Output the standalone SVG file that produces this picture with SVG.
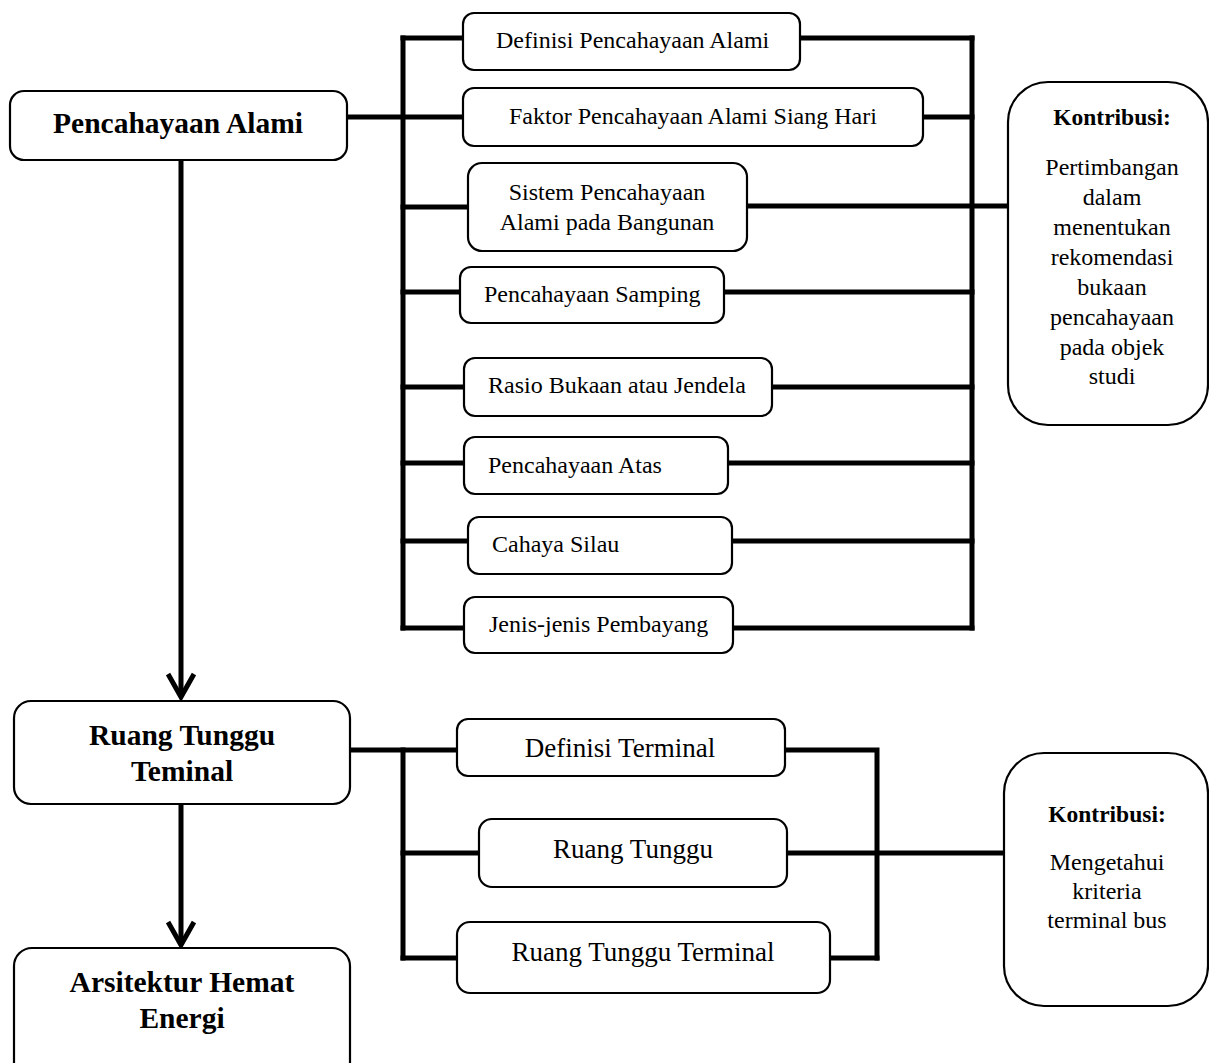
<svg xmlns="http://www.w3.org/2000/svg" width="1209" height="1064" viewBox="0 0 1209 1064">
<style>
.box{fill:#fff;stroke:#000;stroke-width:2.2}
.ln{fill:none;stroke:#000;stroke-width:5;stroke-linecap:square}
text{font-family:"Liberation Serif",Tinos,"Times New Roman",Times,"DejaVu Serif",serif;fill:#000}
.t{font-size:24px}
.tl{font-size:27px;text-anchor:middle}
.tb{font-size:29.5px;font-weight:bold;text-anchor:middle}
.kb{font-size:23.5px;font-weight:bold;text-anchor:middle}
.c{text-anchor:middle}
</style>
<defs>
<marker id="chev" viewBox="0 0 30 30" refX="26" refY="15" markerWidth="30" markerHeight="30" markerUnits="userSpaceOnUse" orient="auto">
<path d="M3,2 L26,15 L3,28" fill="none" stroke="#000" stroke-width="5"/>
</marker>
</defs>
<g id="connectors">
<path class="ln" d="M403,38 V628"/>
<path class="ln" d="M972,38 V628"/>
<path class="ln" d="M403,38 H463"/>
<path class="ln" d="M800,38 H972"/>
<path class="ln" d="M347,117 H463"/>
<path class="ln" d="M923,117 H972"/>
<path class="ln" d="M403,207 H468"/>
<path class="ln" d="M747,206 H1008"/>
<path class="ln" d="M403,292 H460"/>
<path class="ln" d="M724,292 H972"/>
<path class="ln" d="M403,387 H464"/>
<path class="ln" d="M772,387 H972"/>
<path class="ln" d="M403,463 H464"/>
<path class="ln" d="M728,463 H972"/>
<path class="ln" d="M403,541 H468"/>
<path class="ln" d="M732,541 H972"/>
<path class="ln" d="M403,628 H464"/>
<path class="ln" d="M733,628 H972"/>
<path class="ln" d="M350,750 H457"/>
<path class="ln" d="M403,750 V958"/>
<path class="ln" d="M785,750 H877 V958"/>
<path class="ln" d="M403,853 H479"/>
<path class="ln" d="M787,853 H1004"/>
<path class="ln" d="M403,958 H457"/>
<path class="ln" d="M830,958 H877"/>
<line x1="181" y1="161" x2="181" y2="697" stroke="#000" stroke-width="5" marker-end="url(#chev)"/>
<line x1="181" y1="805" x2="181" y2="945" stroke="#000" stroke-width="5" marker-end="url(#chev)"/>
</g>
<g id="n-pencahayaan-alami">
<rect class="box" x="10" y="91" width="337" height="69" rx="14"/>
<text class="tb" x="178" y="133">Pencahayaan Alami</text>
</g>
<g id="n-definisi">
<rect class="box" x="463" y="13" width="337" height="57" rx="11"/>
<text class="t" x="496" y="48">Definisi Pencahayaan Alami</text>
</g>
<g id="n-faktor">
<rect class="box" x="463" y="88" width="460" height="58" rx="11"/>
<text class="t" x="509" y="124">Faktor Pencahayaan Alami Siang Hari</text>
</g>
<g id="n-sistem">
<rect class="box" x="468" y="163" width="279" height="88" rx="14"/>
<text class="t c" x="607" y="200">Sistem Pencahayaan</text>
<text class="t c" x="607" y="230">Alami pada Bangunan</text>
</g>
<g id="n-samping">
<rect class="box" x="460" y="267" width="264" height="56" rx="11"/>
<text class="t" x="484" y="302">Pencahayaan Samping</text>
</g>
<g id="n-rasio">
<rect class="box" x="464" y="358" width="308" height="58" rx="11"/>
<text class="t" x="488" y="393">Rasio Bukaan atau Jendela</text>
</g>
<g id="n-atas">
<rect class="box" x="464" y="437" width="264" height="57" rx="11"/>
<text class="t" x="488" y="473">Pencahayaan Atas</text>
</g>
<g id="n-silau">
<rect class="box" x="468" y="517" width="264" height="57" rx="11"/>
<text class="t" x="492" y="552">Cahaya Silau</text>
</g>
<g id="n-pembayang">
<rect class="box" x="464" y="597" width="269" height="56" rx="11"/>
<text class="t" x="489" y="632">Jenis-jenis Pembayang</text>
</g>
<g id="n-kontribusi-1">
<path class="box" d="M1048,82 H1168 A40,40 0 0 1 1208,122 V385 A40,40 0 0 1 1168,425 H1048 A40,40 0 0 1 1008,385 V122 A40,40 0 0 1 1048,82 Z"/>
<text class="kb" x="1112" y="125">Kontribusi:</text>
<text class="t c" x="1112" y="175">Pertimbangan</text>
<text class="t c" x="1112" y="205">dalam</text>
<text class="t c" x="1112" y="235">menentukan</text>
<text class="t c" x="1112" y="265">rekomendasi</text>
<text class="t c" x="1112" y="295">bukaan</text>
<text class="t c" x="1112" y="325">pencahayaan</text>
<text class="t c" x="1112" y="355">pada objek</text>
<text class="t c" x="1112" y="384">studi</text>
</g>
<g id="n-ruang-tunggu-teminal">
<rect class="box" x="14" y="701" width="336" height="103" rx="17"/>
<text class="tb" x="182" y="745">Ruang Tunggu</text>
<text class="tb" x="182" y="781">Teminal</text>
</g>
<g id="n-definisi-terminal">
<rect class="box" x="457" y="719" width="328" height="57" rx="11"/>
<text class="tl" x="620" y="757">Definisi Terminal</text>
</g>
<g id="n-ruang-tunggu">
<rect class="box" x="479" y="819" width="308" height="68" rx="13"/>
<text class="tl" x="633" y="858">Ruang Tunggu</text>
</g>
<g id="n-ruang-tunggu-terminal">
<rect class="box" x="457" y="922" width="373" height="71" rx="13"/>
<text class="tl" x="643" y="961">Ruang Tunggu Terminal</text>
</g>
<g id="n-kontribusi-2">
<path class="box" d="M1044,753 H1168 A40,40 0 0 1 1208,793 V966 A40,40 0 0 1 1168,1006 H1044 A40,40 0 0 1 1004,966 V793 A40,40 0 0 1 1044,753 Z"/>
<text class="kb" x="1107" y="822">Kontribusi:</text>
<text class="t c" x="1107" y="870">Mengetahui</text>
<text class="t c" x="1107" y="899">kriteria</text>
<text class="t c" x="1107" y="928">terminal bus</text>
</g>
<g id="n-arsitektur">
<path class="box" d="M14,1063 V966 A18,18 0 0 1 32,948 H332 A18,18 0 0 1 350,966 V1063"/>
<text class="tb" x="182" y="992">Arsitektur Hemat</text>
<text class="tb" x="182" y="1028">Energi</text>
</g>
</svg>
